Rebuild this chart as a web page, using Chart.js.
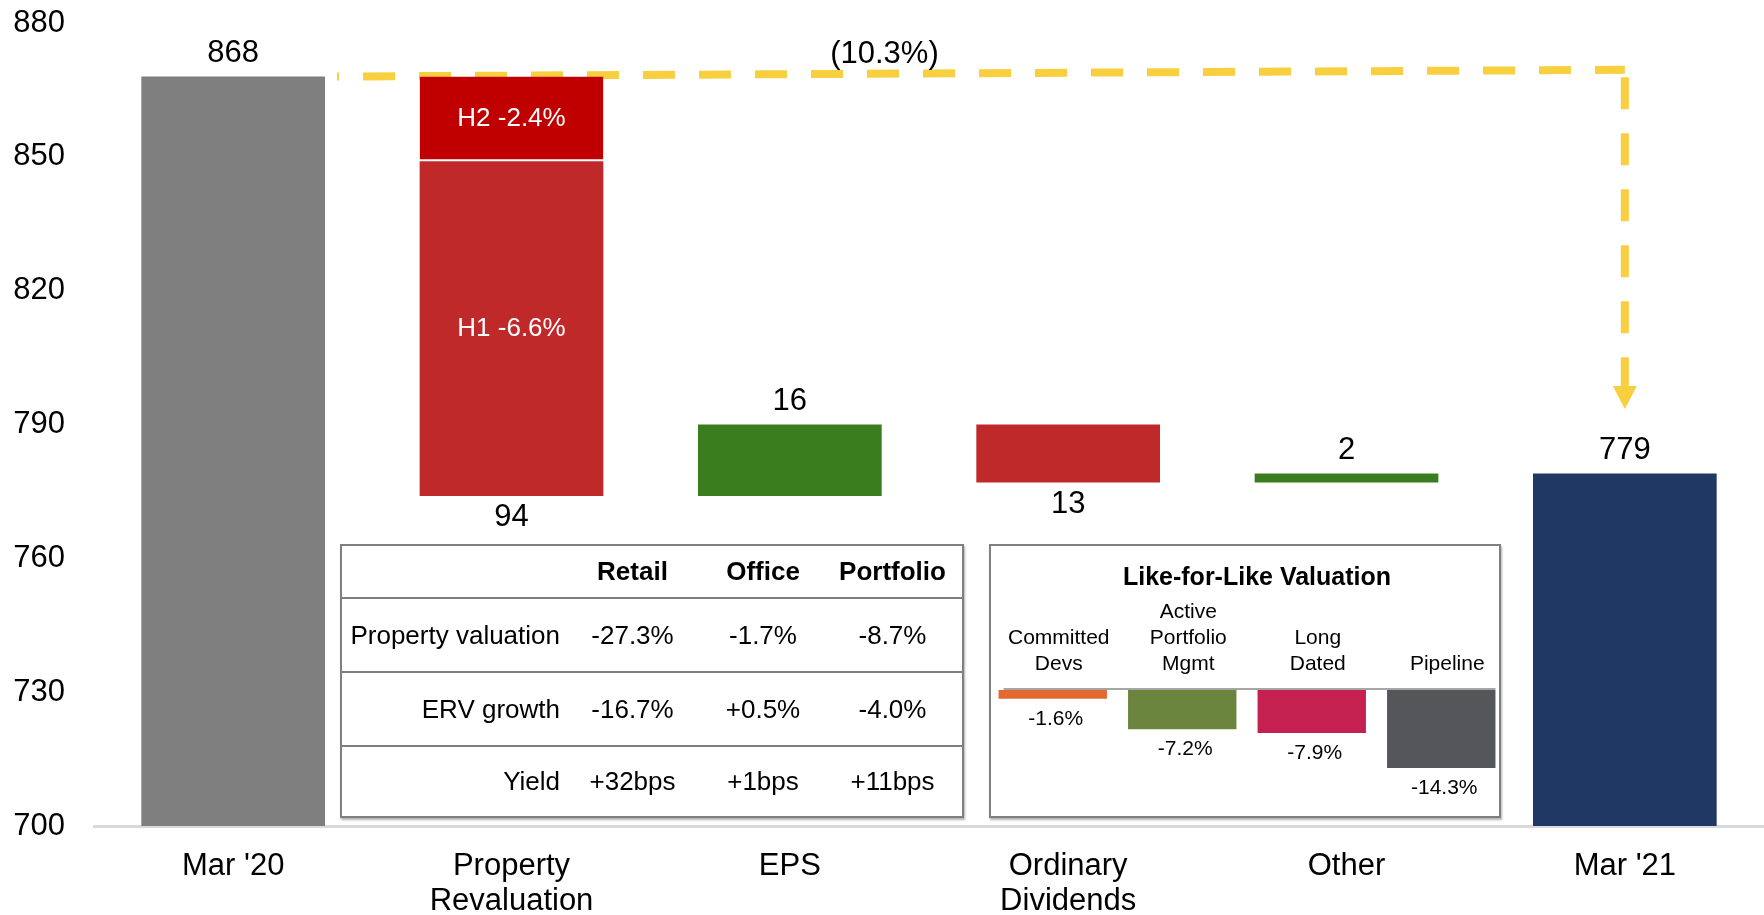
<!DOCTYPE html>
<html>
<head>
<meta charset="utf-8">
<script src="https://cdn.jsdelivr.net/npm/chart.js@4.4.1/dist/chart.umd.min.js"></script>
<style>
  html, body { margin: 0; padding: 0; background: #fff; overflow: hidden; }
  body { font-family: "Liberation Sans", Arial, sans-serif; color: #000; }
  #wrap { position: relative; width: 1764px; height: 915px; overflow: hidden; }
  #bridgeChart { position: absolute; left: 0; top: 0; }
  .box { position: absolute; top: 544px; height: 274px; border: 2px solid #7f7f7f; box-sizing: border-box;
         background: #fff; box-shadow: 1px 2px 2px rgba(0,0,0,0.3); }
  #kpiBox { left: 340px; width: 624px; font-size: 26px; }
  #lflBox { left: 989px; width: 512px; }
  .row { display: flex; align-items: center; box-sizing: border-box; }
  .row + .row { border-top: 2px solid #7f7f7f; }
  .row.head { height: 51px; font-weight: bold; }
  .row.r1, .row.r2 { height: 74px; }
  .row.r3 { height: 71px; }
  .cell { box-sizing: border-box; text-align: center; white-space: nowrap; }
  .c0 { width: 233px; text-align: right; padding-right: 15px; }
  .c1 { width: 115px; }
  .c2 { width: 146px; }
  .c3 { width: 126px; padding-right: 13px; }
  #lflTitle { position: absolute; left: 0; top: 15px; width: 100%; padding-left: 24px; box-sizing: border-box;
              text-align: center; font-weight: bold; font-size: 25px; line-height: 30px; }
  #lflChart { position: absolute; left: 988px; top: 590px; }
</style>
</head>
<body>
<div id="wrap">
  <canvas id="bridgeChart" width="1764" height="920"></canvas>
  <div class="box" id="kpiBox"></div>
  <div class="box" id="lflBox"><div id="lflTitle"></div></div>
  <canvas id="lflChart" width="518" height="220"></canvas>
</div>
<script>
// EPRA NTA bridge (pence per share)
const categories = ['Mar \'20', ['Property', 'Revaluation'], 'EPS', ['Ordinary', 'Dividends'], 'Other', 'Mar \'21'];
const yTicks = [700, 730, 760, 790, 820, 850, 880];
const barLow = [700, 774, 774, 777, 777, 700];
const barHigh = [868, 849, 790, 790, 779, 779];
const h2Low = 849;
const h2High = 868;
const barLabels = ['868', '94', '16', '13', '2', '779'];
const labelBelow = [false, true, false, true, false, false];
const barColors = ['#7f7f7f', '#c0292a', '#3a7d1f', '#c0292a', '#3a7d1f', '#1f3864'];
const segmentLabels = ['H2 -2.4%', 'H1 -6.6%'];
const bridgeLabel = '(10.3%)';
const bridgeStart = 868;
const bridgeEnd = 869.5;
const arrowTip = 793.5;

// table
const kpiColumns = ['Retail', 'Office', 'Portfolio'];
const kpiRows = ['Property valuation', 'ERV growth', 'Yield'];
const kpiValues = [
  ['-27.3%', '-1.7%', '-8.7%'],
  ['-16.7%', '+0.5%', '-4.0%'],
  ['+32bps', '+1bps', '+11bps']
];

// like-for-like inset
const lflTitle = 'Like-for-Like Valuation';
const lflLabels = [['Committed', 'Devs'], ['Active', 'Portfolio', 'Mgmt'], ['Long', 'Dated'], 'Pipeline'];
const lflValues = [-1.6, -7.2, -7.9, -14.3];
const lflColors = ['#e3692f', '#6b843e', '#c42150', '#55565a'];

const FONT = '"Liberation Sans", Arial, sans-serif';
const YELLOW = '#f8d03f';
Chart.defaults.font.family = FONT;
Chart.defaults.color = '#000';

// build the table
const kpiBox = document.getElementById('kpiBox');
let html = '<div class="row head"><div class="cell c0"></div>';
kpiColumns.forEach((c, j) => { html += '<div class="cell c' + (j + 1) + '">' + c + '</div>'; });
html += '</div>';
kpiRows.forEach((r, i) => {
  html += '<div class="row r' + (i + 1) + '"><div class="cell c0">' + r + '</div>';
  kpiValues[i].forEach((v, j) => { html += '<div class="cell c' + (j + 1) + '">' + v + '</div>'; });
  html += '</div>';
});
kpiBox.innerHTML = html;
document.getElementById('lflTitle').textContent = lflTitle;

// dashed bridge line + arrow, drawn under the bars
const bridgeLine = {
  id: 'bridgeLine',
  beforeDatasetsDraw(chart) {
    const { ctx, scales: { x, y } } = chart;
    const bars = chart.getDatasetMeta(0).data;
    const first = bars[0], last = bars[bars.length - 1];
    const x0 = first.x + first.width / 2 + 12;
    const x1 = last.x;
    const y0 = y.getPixelForValue(bridgeStart);
    const y1 = y.getPixelForValue(bridgeEnd);
    const yTip = y.getPixelForValue(arrowTip);
    ctx.save();
    ctx.strokeStyle = YELLOW;
    ctx.lineWidth = 8;
    ctx.setLineDash([32, 24]);
    ctx.lineDashOffset = 30;
    ctx.beginPath(); ctx.moveTo(x0, y0); ctx.lineTo(x1, y1); ctx.stroke();
    ctx.lineDashOffset = 0;
    ctx.beginPath(); ctx.moveTo(x1, y1 + 7.5); ctx.lineTo(x1, yTip - 22); ctx.stroke();
    ctx.setLineDash([]);
    ctx.fillStyle = YELLOW;
    ctx.beginPath();
    ctx.moveTo(x1 - 12, yTip - 23); ctx.lineTo(x1 + 12, yTip - 23); ctx.lineTo(x1, yTip);
    ctx.closePath(); ctx.fill();
    // percentage label sitting on the line
    const xl = x.getPixelForValue(2.34);
    const yl = y0 + (y1 - y0) * (xl - x0) / (x1 - x0);
    ctx.fillStyle = '#000';
    ctx.font = '31px ' + FONT;
    ctx.textAlign = 'center';
    ctx.textBaseline = 'middle';
    ctx.fillText(bridgeLabel, xl, yl - 19);
    ctx.restore();
  }
};

// value labels
const barValues = {
  id: 'barValues',
  afterDatasetsDraw(chart) {
    const { ctx } = chart;
    const bars = chart.getDatasetMeta(0).data;
    ctx.save();
    ctx.textAlign = 'center';
    ctx.textBaseline = 'middle';
    ctx.fillStyle = '#000';
    ctx.font = '31px ' + FONT;
    bars.forEach((bar, i) => {
      const top = Math.min(bar.y, bar.base), bottom = Math.max(bar.y, bar.base);
      ctx.fillText(barLabels[i], bar.x, labelBelow[i] ? bottom + 22 : top - 23);
    });
    const h1 = bars[1];
    const h2 = chart.getDatasetMeta(1).data[1];
    ctx.fillStyle = '#fff';
    ctx.font = '26px ' + FONT;
    ctx.fillText(segmentLabels[0], h2.x, (h2.y + h2.base) / 2);
    ctx.fillText(segmentLabels[1], h1.x, (h1.y + h1.base) / 2);
    ctx.restore();
  }
};

new Chart(document.getElementById('bridgeChart'), {
  type: 'bar',
  data: {
    labels: categories,
    datasets: [{
      data: barLow.map((lo, i) => [lo, barHigh[i]]),
      backgroundColor: barColors,
      grouped: false,
      barPercentage: 0.66,
      categoryPercentage: 1
    }, {
      data: categories.map((c, i) => i === 1 ? [h2Low, h2High] : null),
      backgroundColor: '#c00000',
      borderColor: '#fff',
      borderWidth: { top: 0, left: 0, right: 0, bottom: 2 },
      borderSkipped: false,
      grouped: false,
      barPercentage: 0.66,
      categoryPercentage: 1
    }]
  },
  options: {
    responsive: false,
    animation: false,
    layout: { padding: { left: 13, top: 2, right: 0, bottom: 0 } },
    plugins: { legend: { display: false }, tooltip: { enabled: false } },
    scales: {
      x: {
        z: 1,
        grid: { display: false, drawTicks: false },
        border: { color: '#d9d9d9', width: 3 },
        ticks: { font: { size: 31, lineHeight: 1.16 }, padding: 22, maxRotation: 0, autoSkip: false },
        afterFit: s => { s.height = 94; }
      },
      y: {
        min: 700, max: 880,
        afterBuildTicks: s => { s.ticks = yTicks.map(v => ({ value: v })); },
        grid: { display: false, drawTicks: false },
        border: { display: false },
        ticks: { font: { size: 31 }, padding: 29 },
        afterFit: s => { s.width = 81; s.paddingTop = 23; s.paddingBottom = 0; }
      }
    }
  },
  plugins: [bridgeLine, barValues]
});

// zero line and labels under the inset bars
const lflValueLabels = {
  id: 'lflValueLabels',
  beforeDatasetsDraw(chart) {
    const { ctx, scales: { y } } = chart;
    const bars = chart.getDatasetMeta(0).data;
    const y0 = y.getPixelForValue(0);
    ctx.save();
    ctx.strokeStyle = '#a6a6a6';
    ctx.lineWidth = 2;
    ctx.beginPath();
    ctx.moveTo(bars[0].x - bars[0].width / 2 + 5, y0 - 1);
    ctx.lineTo(bars[bars.length - 1].x + bars[bars.length - 1].width / 2, y0 - 1);
    ctx.stroke();
    ctx.restore();
  },
  afterDatasetsDraw(chart) {
    const { ctx } = chart;
    ctx.save();
    ctx.textAlign = 'center';
    ctx.textBaseline = 'middle';
    ctx.fillStyle = '#000';
    ctx.font = '21px ' + FONT;
    chart.getDatasetMeta(0).data.forEach((bar, i) => {
      ctx.fillText(lflValues[i].toFixed(1) + '%', bar.x + 3, Math.max(bar.y, bar.base) + 20);
    });
    ctx.restore();
  }
};

new Chart(document.getElementById('lflChart'), {
  type: 'bar',
  data: {
    labels: lflLabels,
    datasets: [{
      data: lflValues,
      backgroundColor: lflColors,
      barPercentage: 0.837,
      categoryPercentage: 1
    }]
  },
  options: {
    responsive: false,
    animation: false,
    layout: { padding: { top: 9 } },
    plugins: { legend: { display: false }, tooltip: { enabled: false } },
    scales: {
      x: {
        position: 'top',
        grid: { display: false, drawTicks: false },
        border: { display: false },
        ticks: { font: { size: 21, lineHeight: 1.24 }, padding: 13, labelOffset: 6, maxRotation: 0, autoSkip: false },
        afterFit: s => { s.height = 91; }
      },
      y: { display: false, min: -22, max: 0 }
    }
  },
  plugins: [lflValueLabels]
});
</script>
</body>
</html>
